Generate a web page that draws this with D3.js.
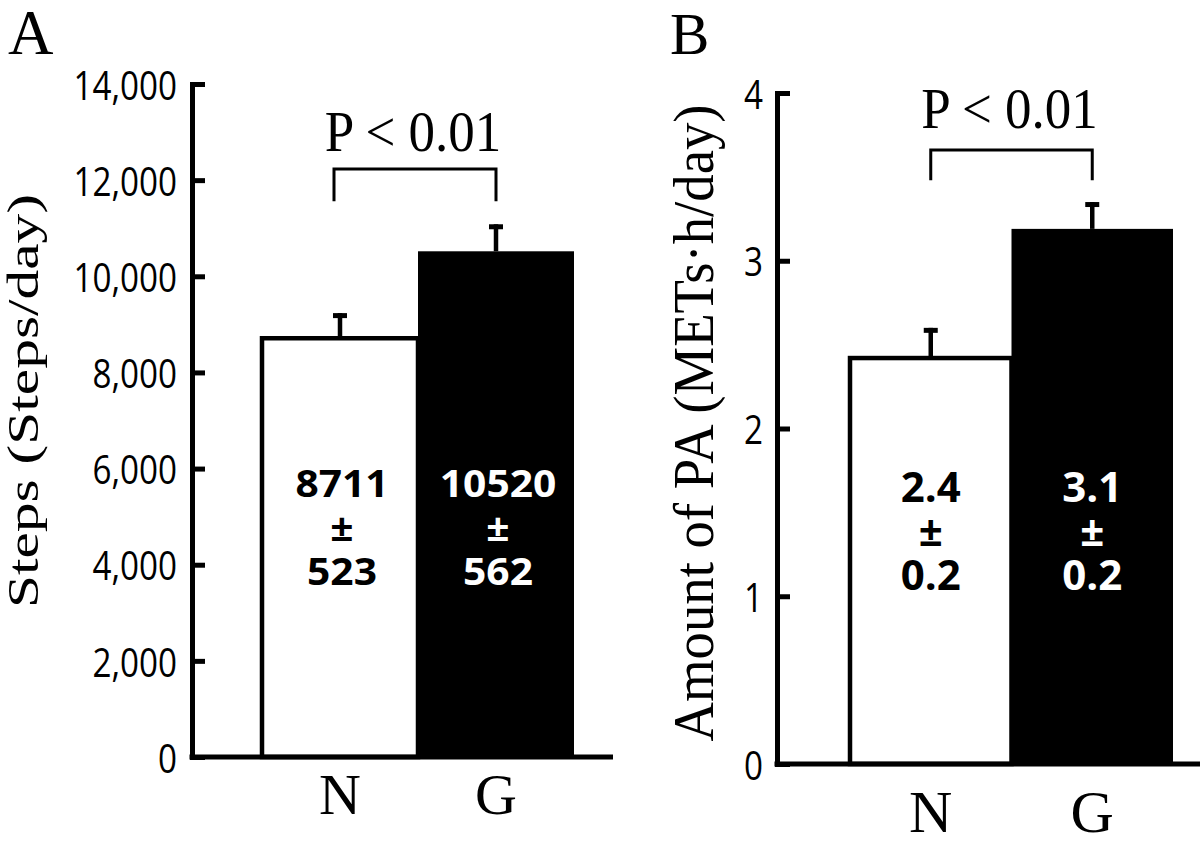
<!DOCTYPE html>
<html>
<head>
<meta charset="utf-8">
<script src="https://cdn.jsdelivr.net/npm/d3@7"></script>
<style>
  body { margin: 0; background: #fff; }
  svg { display: block; }
</style>
</head>
<body>
<div class="chart"></div>
<script>
// data
var groups = ["N", "G"];
var stepsMean = [8711, 10520];
var stepsErr = [523, 562];
var stepsText = [["8711", "±", "523"], ["10520", "±", "562"]];
var stepsTicks = [0, 2000, 4000, 6000, 8000, 10000, 12000, 14000];

var paMean = [2.42, 3.19];
var paErr = [0.18, 0.16];
var paText = [["2.4", "±", "0.2"], ["3.1", "±", "0.2"]];
var paTicks = [0, 1, 2, 3, 4];

var barFill = ["#ffffff", "#000000"];
var textFill = ["#000000", "#ffffff"];

var W = 1200, H = 842;
var serif = "'Liberation Serif', 'Times New Roman', serif";
var sans = "'Open Sans', 'Noto Sans', sans-serif";

var svg = d3.select(".chart").append("svg")
    .attr("width", W)
    .attr("height", H);

// text helper, squeezes horizontally like the original figure
function label(g, x, y, str, size, family, opt) {
    opt = opt || {};
    var sx = opt.sx || 1;
    var rot = opt.rotate ? " rotate(" + opt.rotate + ")" : "";
    return g.append("text")
        .attr("transform", "translate(" + x + "," + y + ")" + rot + " scale(" + sx + ",1)")
        .attr("text-anchor", opt.anchor || "middle")
        .style("font-family", family)
        .style("font-size", size + "px")
        .style("font-weight", opt.weight || 400)
        .style("fill", opt.fill || "#000")
        .text(str);
}

function panel(cfg) {
    var g = svg.append("g");
    var x = d3.scaleBand().domain(groups).range(cfg.xRange);
    var y = d3.scaleLinear().domain(cfg.yDomain).range(cfg.yRange);
    var bw = x.bandwidth();

    // bars
    g.selectAll("rect.bar")
        .data(cfg.mean)
        .enter().append("rect")
        .attr("class", "bar")
        .attr("x", function (d, i) { return x(groups[i]); })
        .attr("y", function (d) { return y(d); })
        .attr("width", bw)
        .attr("height", function (d) { return y(0) - y(d); })
        .attr("fill", function (d, i) { return barFill[i]; })
        .attr("stroke", "#000")
        .attr("stroke-width", function (d, i) { return i == 0 ? 4.5 : 0; });

    // error bars (upper only)
    cfg.mean.forEach(function (m, i) {
        var cx = x(groups[i]) + bw / 2;
        var top = y(m + cfg.err[i]);
        g.append("line")
            .attr("x1", cx).attr("x2", cx)
            .attr("y1", y(m)).attr("y2", top)
            .attr("stroke", "#000").attr("stroke-width", 4.5);
        g.append("line")
            .attr("x1", cx - 7).attr("x2", cx + 7)
            .attr("y1", top + 2.5).attr("y2", top + 2.5)
            .attr("stroke", "#000").attr("stroke-width", 5);

        // mean ± se written inside the bar
        var lines = cfg.text[i];
        var base = y(cfg.textAt);
        lines.forEach(function (t, k) {
            label(g, cx + cfg.textShift, base + (k - 1) * cfg.lineGap, t, cfg.textSize, sans,
                { weight: 700, fill: textFill[i], sx: cfg.textSx });
        });
    });

    // y axis
    var yAxis = d3.axisLeft(y)
        .tickValues(cfg.ticks)
        .tickSizeInner(-13)
        .tickSizeOuter(0)
        .tickPadding(cfg.tickPad)
        .tickFormat(cfg.fmt);
    var ay = g.append("g")
        .attr("transform", "translate(" + cfg.axisX + ",0)")
        .call(yAxis);
    ay.select(".domain").attr("stroke-width", 5).attr("stroke-linecap", "square");
    ay.selectAll(".tick line").attr("stroke-width", 5);
    ay.selectAll(".tick text")
        .attr("x", null)
        .attr("dy", "0.38em")
        .attr("transform", "translate(" + (-cfg.tickPad) + ",0) scale(0.83,1)")
        .style("font-family", sans)
        .style("font-size", "40px")
        .style("fill", "#000");

    // x axis line
    g.append("line")
        .attr("x1", cfg.axisX - 2.5).attr("x2", cfg.xEnd)
        .attr("y1", y(0)).attr("y2", y(0))
        .attr("stroke", "#000").attr("stroke-width", 5);

    // category labels
    var xAxis = d3.axisBottom(x).tickSize(0).tickPadding(0);
    var ax = g.append("g")
        .attr("transform", "translate(0," + y(0) + ")")
        .call(xAxis);
    ax.select(".domain").remove();
    ax.selectAll(".tick text")
        .attr("y", cfg.catBase - y(0))
        .attr("dy", 0)
        .style("font-family", serif)
        .style("font-size", cfg.catSize + "px")
        .style("fill", "#000");

    // significance bracket
    var xl = x(groups[0]) + bw / 2 + cfg.brShift[0];
    var xr = x(groups[1]) + bw / 2 + cfg.brShift[1];
    g.append("path")
        .attr("d", "M" + xl + "," + y(cfg.brLow) + "V" + y(cfg.brHigh) + "H" + xr + "V" + y(cfg.brLow))
        .attr("fill", "none")
        .attr("stroke", "#000")
        .attr("stroke-width", 3);
    label(g, (xl + xr) / 2 - 2, y(cfg.pAt), "P < 0.01", 57, serif, { sx: 0.93 });

    // axis title
    label(g, cfg.titleX, cfg.titleY, cfg.title, cfg.titleSize, serif, { rotate: -90, sx: cfg.titleSx });

    // panel letter
    label(g, cfg.letterX, 54, cfg.letter, cfg.letterSize, serif, { anchor: "start" });
}

panel({
    mean: stepsMean, err: stepsErr, text: stepsText, ticks: stepsTicks,
    fmt: d3.format(","),
    xRange: [262, 574], yDomain: [0, 14000], yRange: [757, 84],
    axisX: 192, xEnd: 613, tickPad: 15,
    textAt: 4500, lineGap: 44, textSize: 37, textSx: 1.1, textShift: 2,
    catBase: 814, catSize: 58,
    brLow: 11560, brHigh: 12230, brShift: [-6, 0], pAt: 12600,
    title: "Steps (Steps/day)", titleX: 38, titleY: 401, titleSize: 45, titleSx: 1.32,
    letter: "A", letterX: 8, letterSize: 63
});

panel({
    mean: paMean, err: paErr, text: paText, ticks: paTicks,
    fmt: d3.format("d"),
    xRange: [850, 1173], yDomain: [0, 4], yRange: [764, 93],
    axisX: 777, xEnd: 1200, tickPad: 14,
    textAt: 1.3, lineGap: 44, textSize: 42, textSx: 1.0, textShift: 0,
    catBase: 832, catSize: 60,
    brLow: 3.48, brHigh: 3.66, brShift: [0, 0], pAt: 3.79,
    title: "Amount of PA (METs·h/day)", titleX: 713, titleY: 423, titleSize: 57, titleSx: 0.96,
    letter: "B", letterX: 670, letterSize: 59
});
</script>
</body>
</html>
